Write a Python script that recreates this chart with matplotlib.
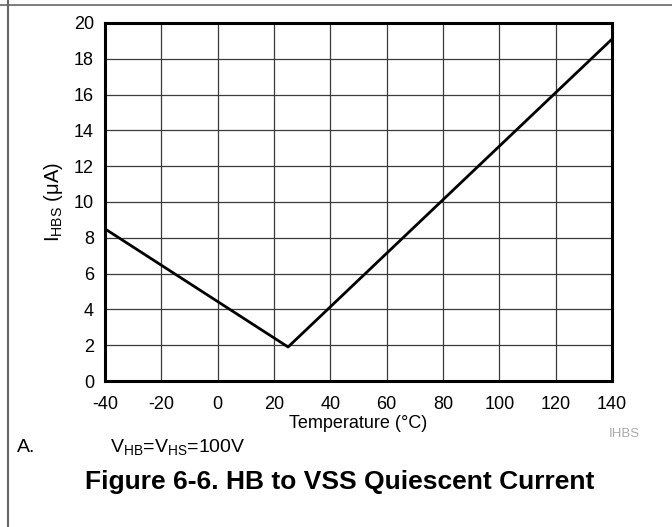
import matplotlib
matplotlib.use('Agg')
import matplotlib.pyplot as plt
from matplotlib.lines import Line2D

plt.rcParams['font.family'] = ['Liberation Sans', 'DejaVu Sans']
plt.rcParams['mathtext.fontset'] = 'custom'
plt.rcParams['mathtext.rm'] = 'Liberation Sans'
plt.rcParams['mathtext.it'] = 'Liberation Sans'
plt.rcParams['axes.unicode_minus'] = False

# 曲线数据 (温度 °C, 电流 µA)
temp = [-40, 25, 140]
ihbs = [8.5, 1.9, 19.1]

x_ticks = [-40, -20, 0, 20, 40, 60, 80, 100, 120, 140]
y_ticks = [0, 2, 4, 6, 8, 10, 12, 14, 16, 18, 20]

fig = plt.figure(figsize=(6.72, 5.27), dpi=100)
ax = fig.add_axes([105 / 672, 1 - 381 / 527, (612 - 105) / 672, (381 - 23) / 527])

ax.plot(temp, ihbs, color='black', linewidth=2)

ax.set_xlim(-40, 140)
ax.set_ylim(0, 20)
ax.set_xticks(x_ticks)
ax.set_yticks(y_ticks)
ax.tick_params(length=0, labelsize=13)
ax.tick_params(axis='x', pad=11)
ax.tick_params(axis='y', pad=8)
ax.grid(True, color='#3a3a3a', linewidth=0.9)
ax.set_axisbelow(True)
for s in ax.spines.values():
    s.set_linewidth(2.2)
    s.set_color('black')

ax.set_xlabel('Temperature (°C)', fontsize=13, labelpad=1)
ax.set_ylabel(r'I$_{\mathrm{HBS}}$ ($\mu$A)', fontsize=14.5, labelpad=6)

# 外框线
fig.add_artist(Line2D([0, 1], [1 - 5 / 527, 1 - 5 / 527], color='#666666', linewidth=1.2))
fig.add_artist(Line2D([8 / 672, 8 / 672], [0, 1], color='#666666', linewidth=1.5))

fig.text(624 / 672, 1 - 434 / 527, 'IHBS', fontsize=9.5, color='#aaaaaa', ha='center', va='center')
fig.text(17 / 672, 1 - 447 / 527, 'A.', fontsize=14, ha='left', va='center')
fig.text(110 / 672, 1 - 447 / 527, r'V$_{\mathrm{HB}}$=V$_{\mathrm{HS}}$=100V', fontsize=14, ha='left', va='center')
fig.text(340 / 672, 1 - 482 / 527, 'Figure 6-6. HB to VSS Quiescent Current', fontsize=19,
         fontweight='bold', ha='center', va='center')

plt.savefig('out.png', dpi=100)
